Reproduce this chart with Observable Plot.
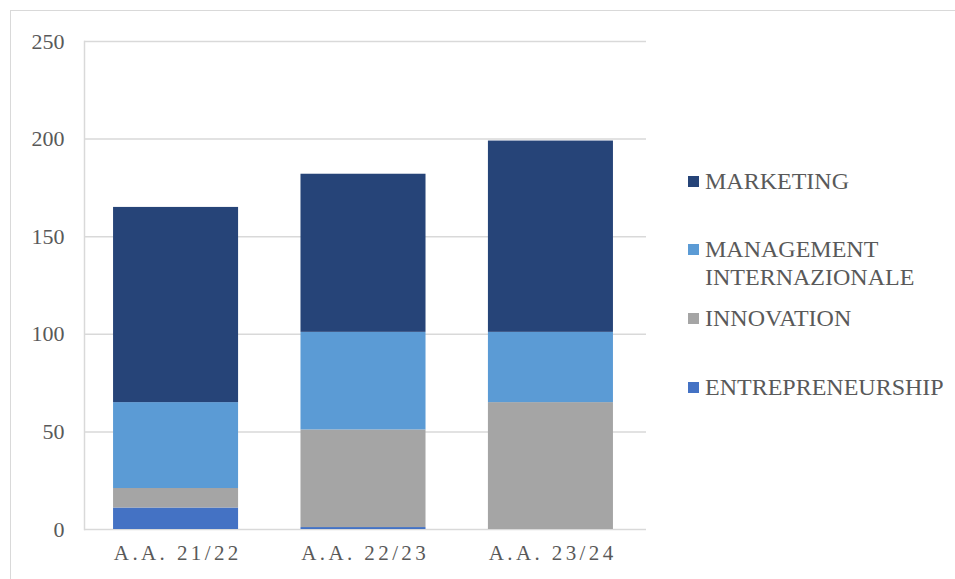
<!DOCTYPE html>
<html>
<head>
<meta charset="utf-8">
<script src="https://cdn.jsdelivr.net/npm/d3@7"></script>
<script src="https://cdn.jsdelivr.net/npm/@observablehq/plot@0.6"></script>
<style>
  html, body { margin: 0; padding: 0; background: #fff; }
  #wrap { position: relative; width: 955px; height: 579px; overflow: hidden; font-family: "Liberation Serif", "DejaVu Serif", serif; }
  #frame { position: absolute; left: 10px; top: 10px; width: 1000px; height: 600px; border: 1.5px solid #d9d9d9; box-sizing: border-box; }
  #chart { position: absolute; left: 0; top: 0; }
  .leg { position: absolute; left: 688px; font-size: 24px; line-height: 28px; color: #595959; display: flex; align-items: flex-start; }
  .sw { width: 11px; height: 11px; margin-top: 9px; margin-right: 6px; flex: none; }
</style>
</head>
<body>
<div id="wrap">
  <div id="frame"></div>
  <div id="chart"></div>
  <div id="legend"></div>
</div>
<script>
const years = ["A.A. 21/22", "A.A. 22/23", "A.A. 23/24"];
const series = ["ENTREPRENEURSHIP", "INNOVATION", "MANAGEMENT INTERNAZIONALE", "MARKETING"];
const entrepreneurship = [11, 1, 0];
const innovation = [10, 50, 65];
const management = [44, 50, 36];
const marketing = [100, 81, 98];
const colors = ["#4472C4", "#A5A5A5", "#5B9BD5", "#264478"];
const yTicks = [0, 50, 100, 150, 200, 250];

const values = [entrepreneurship, innovation, management, marketing];
const data = [];
series.forEach((s, i) => years.forEach((y, j) => data.push({year: y, series: s, value: values[i][j]})));

const chart = Plot.plot({
  width: 955,
  height: 579,
  marginLeft: 84,
  marginRight: 309,
  marginTop: 41,
  marginBottom: 50,
  style: {fontFamily: "Liberation Serif, DejaVu Serif, serif", background: "transparent", color: "#595959"},
  x: {domain: years, range: [84, 642], paddingInner: 0.333, paddingOuter: 0.155, round: false, label: null},
  y: {domain: [0, 250], label: null},
  color: {domain: series, range: colors},
  marks: [
    Plot.ruleY(yTicks, {stroke: "#d9d9d9", strokeWidth: 1.5}),
    Plot.frame({anchor: "left", stroke: "#d9d9d9", strokeWidth: 1.5}),
    Plot.barY(data, Plot.stackY({x: "year", y: "value", fill: "series", order: series})),
    Plot.axisY(yTicks, {tickSize: 0, tickPadding: 20, fontSize: 22, fill: "#595959", label: null}),
    Plot.axisX({tickSize: 0, tickPadding: 16, fontSize: 21, fill: "#595959", label: null, dx: 1.7})
  ]
});
document.getElementById("chart").appendChild(chart);
chart.querySelectorAll("[aria-label='x-axis tick label'] text").forEach(t => t.setAttribute("letter-spacing", "3.4px"));

const legendItems = [
  {name: "MARKETING", color: colors[3], top: 167},
  {name: "MANAGEMENT<br>INTERNAZIONALE", color: colors[2], top: 235},
  {name: "INNOVATION", color: colors[1], top: 304},
  {name: "ENTREPRENEURSHIP", color: colors[0], top: 373}
];
const leg = document.getElementById("legend");
legendItems.forEach(d => {
  const el = document.createElement("div");
  el.className = "leg";
  el.style.top = d.top + "px";
  el.innerHTML = `<span class="sw" style="background:${d.color}"></span><span>${d.name}</span>`;
  leg.appendChild(el);
});
</script>
</body>
</html>
